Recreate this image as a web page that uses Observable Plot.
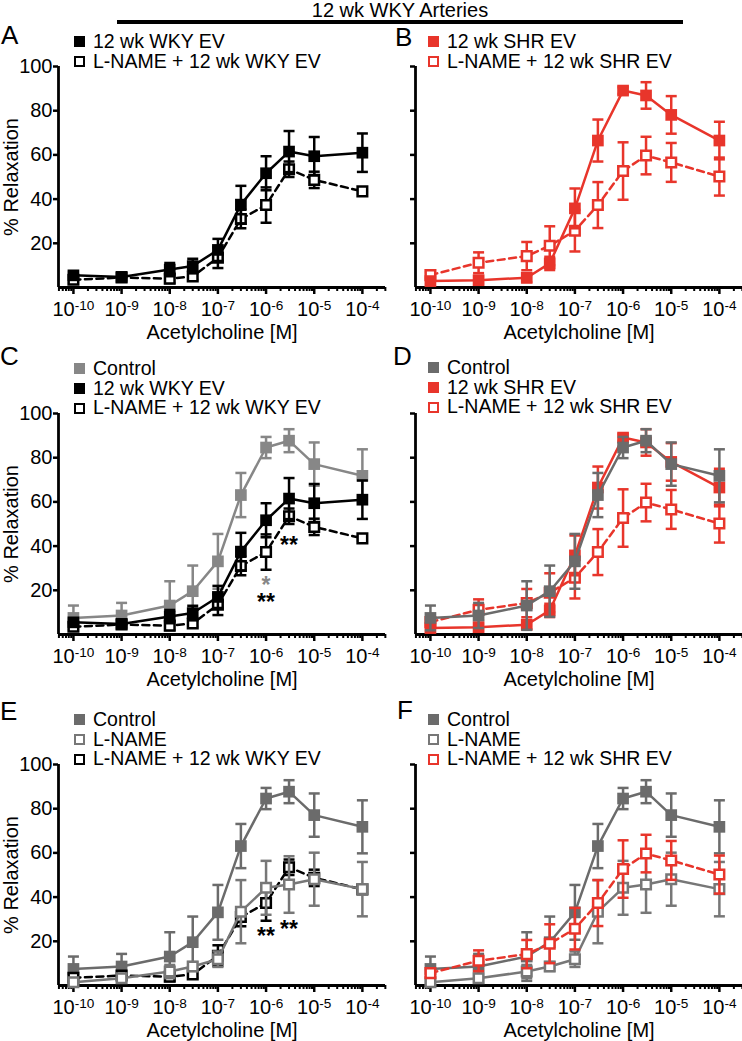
<!DOCTYPE html>
<html><head><meta charset="utf-8">
<script src="https://cdn.jsdelivr.net/npm/d3@7"></script>
<script src="https://cdn.jsdelivr.net/npm/@observablehq/plot@0.6"></script>
<style>
body{margin:0;background:#fff;}
#fig{position:relative;width:742px;height:1041px;overflow:hidden;font-family:"Liberation Sans",Arial,Helvetica,sans-serif;color:#000;background:#fff;}
.abs{position:absolute;}
.letter{font-size:26px;line-height:26px;}
.title{font-size:20px;line-height:20px;white-space:nowrap;}
.legend{font-size:19.5px;line-height:19.5px;white-space:nowrap;}
.legend .row{display:flex;align-items:center;height:19.7px;}
.sq{width:11px;height:11px;box-sizing:border-box;margin-right:8px;flex:none;}
</style></head><body><div id="fig"></div>
<script>
// ---- data ----
const conc = [1e-10, 1e-9, 1e-8, 3e-8, 1e-7, 3e-7, 1e-6, 3e-6, 1e-5, 1e-4];
const xTicks = [1e-10, 1e-9, 1e-8, 1e-7, 1e-6, 1e-5, 1e-4];
const yTicks = [20, 40, 60, 80, 100];

const control      = [7.5, 8.6, 13.1, 19.6, 33.1, 63.1, 84.6, 87.7, 77.1, 71.8];
const controlErr   = [5.6, 5.7, 11.0, 11.6, 12.4, 10.0, 4.8, 5.2, 9.8, 12.0];
const lname        = [1.5, 3.3, 6.3, 8.6, 11.9, 33.4, 44.2, 45.7, 48.1, 43.6];
const lnameErr     = [1.5, 2.0, 3.0, 2.0, 3.5, 14.3, 12.2, 12.8, 12.0, 12.3];
const wkyEV        = [5.5, 4.8, 8.1, 9.7, 17.0, 37.5, 51.7, 61.5, 59.4, 61.0];
const wkyEVErr     = [1.5, 1.5, 3.0, 3.3, 5.0, 8.5, 7.7, 9.3, 8.7, 8.7];
const lnameWky     = [3.5, 4.5, 4.0, 5.0, 13.5, 31.0, 37.3, 53.5, 48.7, 43.5];
const lnameWkyErr  = [1.5, 1.0, 2.0, 1.5, 4.7, 4.2, 8.0, 3.5, 3.7, 1.0];
const shrEV        = [2.9, 3.3, 4.4, 10.9, 35.8, 66.5, 89.1, 86.9, 78.1, 66.5];
const shrEVErr     = [1.5, 1.5, 2.0, 3.0, 9.0, 9.5, 1.5, 6.0, 8.5, 8.5];
const lnameShr     = [5.6, 11.2, 14.2, 18.9, 25.7, 37.3, 52.7, 59.7, 56.6, 50.2];
const lnameShrErr  = [1.5, 4.7, 6.4, 8.8, 9.4, 10.4, 13.0, 8.5, 8.8, 8.6];

const starsC = [
  {x: 1e-6, y: 24.6, t: "*", c: "gray"},
  {x: 1e-6, y: 16.8, t: "**", c: "black"},
  {x: 3e-6, y: 42.5, t: "**", c: "black"}
];
const starsE = [
  {x: 1e-6, y: 24.4, t: "**", c: "black"},
  {x: 3e-6, y: 27.4, t: "**", c: "black"}
];

// ---- styles ----
const RED = "#e8352b", BLACK = "#000000", GRAY = "#6b6b6b", GRAY_C = "#878787", GRAY_L = "#777777";
const xDomain = [Math.pow(10, -10.31), Math.pow(10, -3.52)];

function ser(name, v, e, color, filled, dashed) { return {name, v, e, color, filled, dashed}; }
const S = {
  wky: ser("12 wk WKY EV", wkyEV, wkyEVErr, BLACK, true, false),
  lnWky: ser("L-NAME + 12 wk WKY EV", lnameWky, lnameWkyErr, BLACK, false, true),
  shr: ser("12 wk SHR EV", shrEV, shrEVErr, RED, true, false),
  lnShr: ser("L-NAME + 12 wk SHR EV", lnameShr, lnameShrErr, RED, false, true),
  ctrlC: ser("Control", control, controlErr, GRAY_C, true, false),
  ctrl: ser("Control", control, controlErr, GRAY, true, false),
  ln: ser("L-NAME", lname, lnameErr, GRAY_L, false, false)
};

const panels = [
  {letter: "A", col: 0, row: 0, legend: [S.wky, S.lnWky], draw: [S.lnWky, S.wky], stars: []},
  {letter: "B", col: 1, row: 0, legend: [S.shr, S.lnShr], draw: [S.lnShr, S.shr], stars: []},
  {letter: "C", col: 0, row: 1, legend: [S.ctrlC, S.wky, S.lnWky], draw: [S.ctrlC, S.lnWky, S.wky], stars: starsC},
  {letter: "D", col: 1, row: 1, legend: [S.ctrl, S.shr, S.lnShr], draw: [S.lnShr, S.shr, S.ctrl], stars: []},
  {letter: "E", col: 0, row: 2, legend: [S.ctrl, S.ln, S.lnWky], draw: [S.ctrl, S.lnWky, S.ln], stars: starsE},
  {letter: "F", col: 1, row: 2, legend: [S.ctrl, S.ln, S.lnShr], draw: [S.ctrl, S.ln, S.lnShr], stars: []}
];

// ---- layout ----
const rowTop = [0, 347, 698];
const colLeft = [0, 357];
const MT = 66, MB = 57, ML = 58, INNER_H = 221, W = 385;
const legendTop = [[32, 32], [359, 358], [710, 710]];
const letterPos = [[{x: 1, y: 22}, {x: 395, y: 24}], [{x: 0, y: 343}, {x: 393, y: 343}], [{x: 0, y: 698}, {x: 397, y: 697}]];

const fig = document.getElementById("fig");

const hline = {draw(ctx, size) { const r = Math.sqrt(size / Math.PI); ctx.moveTo(-r, 0); ctx.lineTo(r, 0); }};

const minorTicks = [];
for (let e = -11; e <= -4; e++) for (let k = 2; k <= 9; k++) {
  const v = k * Math.pow(10, e);
  if (v >= xDomain[0] && v <= xDomain[1]) minorTicks.push(v);
}

function seriesMarks(s) {
  const data = conc.map((x, i) => ({x, y: s.v[i], e: s.e[i]}));
  const sw = 2.5;
  return [
    Plot.ruleX(data, {x: "x", y1: d => Math.max(0, d.y - d.e), y2: d => d.y + d.e, stroke: s.color, strokeWidth: sw}),
    Plot.dot(data, {x: "x", y: d => d.y + d.e, symbol: hline, r: 5.5, stroke: s.color, strokeWidth: sw}),
    Plot.dot(data, {x: "x", y: d => Math.max(0, d.y - d.e), symbol: hline, r: 5.5, stroke: s.color, strokeWidth: sw}),
    Plot.line(data, {x: "x", y: "y", stroke: s.color, strokeWidth: sw, strokeDasharray: s.dashed ? "7,4.5" : null}),
    s.filled
      ? Plot.dot(data, {x: "x", y: "y", symbol: "square", r: 6.6, fill: s.color, stroke: "none"})
      : Plot.dot(data, {x: "x", y: "y", symbol: "square", r: 5.4, fill: "white", stroke: s.color, strokeWidth: sw})
  ];
}

for (const p of panels) {
  const left = colLeft[p.col], top = rowTop[p.row];
  const showY = p.col === 0;
  const marks = [
    Plot.axisY({ticks: yTicks, tickSize: 5, tickPadding: 1, strokeWidth: 2.5,
      tickFormat: showY ? (d => String(d)) : (() => ""),
      label: showY ? "% Relaxation" : null, labelAnchor: "center", labelArrow: "none"}),
    Plot.axisX({ticks: minorTicks, tickSize: 4, strokeWidth: 2, tickFormat: () => "", label: null}),
    Plot.axisX({ticks: xTicks, tickSize: 7, tickPadding: 7, strokeWidth: 2.5,
      tickFormat: d => "10^" + Math.round(Math.log10(d)),
      label: "Acetylcholine [M]", labelAnchor: "center", labelArrow: "none", labelOffset: 51}),
    Plot.ruleY([0], {strokeWidth: 2.8}),
    Plot.ruleX([xDomain[0]], {strokeWidth: 2.8})
  ];
  for (const s of p.draw) marks.push(...seriesMarks(s));
  if (p.stars.length) {
    marks.push(Plot.text(p.stars, {x: "x", y: "y", text: "t", fill: d => d.c === "gray" ? GRAY_C : BLACK,
      fontSize: 23, fontWeight: "bold", dy: 5}));
  }
  const svg = Plot.plot({
    width: W, height: MT + INNER_H + MB,
    marginLeft: ML, marginRight: 0, marginTop: MT, marginBottom: MB,
    style: {fontFamily: '"Liberation Sans", Arial, Helvetica, sans-serif', fontSize: "20px", background: "transparent", overflow: "visible", color: "#000"},
    x: {type: "log", domain: xDomain},
    y: {domain: [0, 100]},
    marks
  });
  // superscript exponents in x tick labels
  svg.querySelectorAll('g[aria-label="x-axis tick label"] text').forEach(t => {
    const parts = t.textContent.split("^");
    if (parts.length === 2) {
      t.textContent = parts[0];
      const ts = document.createElementNS("http://www.w3.org/2000/svg", "tspan");
      ts.setAttribute("dy", "-0.42em");
      ts.setAttribute("font-size", "0.68em");
      ts.textContent = parts[1];
      t.appendChild(ts);
    }
  });
  const holder = document.createElement("div");
  holder.className = "abs";
  holder.style.left = left + "px"; holder.style.top = top + "px"; holder.style.width = W + "px";
  holder.appendChild(svg);
  fig.appendChild(holder);

  // panel letter
  const lp = letterPos[p.row][p.col];
  const L = document.createElement("div");
  L.className = "abs letter"; L.style.left = lp.x + "px"; L.style.top = lp.y + "px";
  L.textContent = p.letter;
  fig.appendChild(L);

  // legend
  const lg = document.createElement("div");
  lg.className = "abs legend";
  lg.style.left = (p.col === 0 ? 74 : 428) + "px";
  lg.style.top = legendTop[p.row][p.col] + "px";
  for (const s of p.legend) {
    const r = document.createElement("div"); r.className = "row";
    const sq = document.createElement("span"); sq.className = "sq";
    if (s.filled) sq.style.background = s.color;
    else { sq.style.background = "#fff"; sq.style.border = "2.5px solid " + s.color; }
    const tx = document.createElement("span"); tx.textContent = s.name;
    r.appendChild(sq); r.appendChild(tx); lg.appendChild(r);
  }
  fig.appendChild(lg);
}

// overall title and bar
const title = document.createElement("div");
title.className = "abs title";
title.textContent = "12 wk WKY Arteries";
title.style.left = "400px"; title.style.top = "0px"; title.style.transform = "translateX(-50%)";
fig.appendChild(title);
const bar = document.createElement("div");
bar.className = "abs";
bar.style.left = "117px"; bar.style.top = "20px"; bar.style.width = "566px"; bar.style.height = "4px"; bar.style.background = "#000";
fig.appendChild(bar);
</script></body></html>
